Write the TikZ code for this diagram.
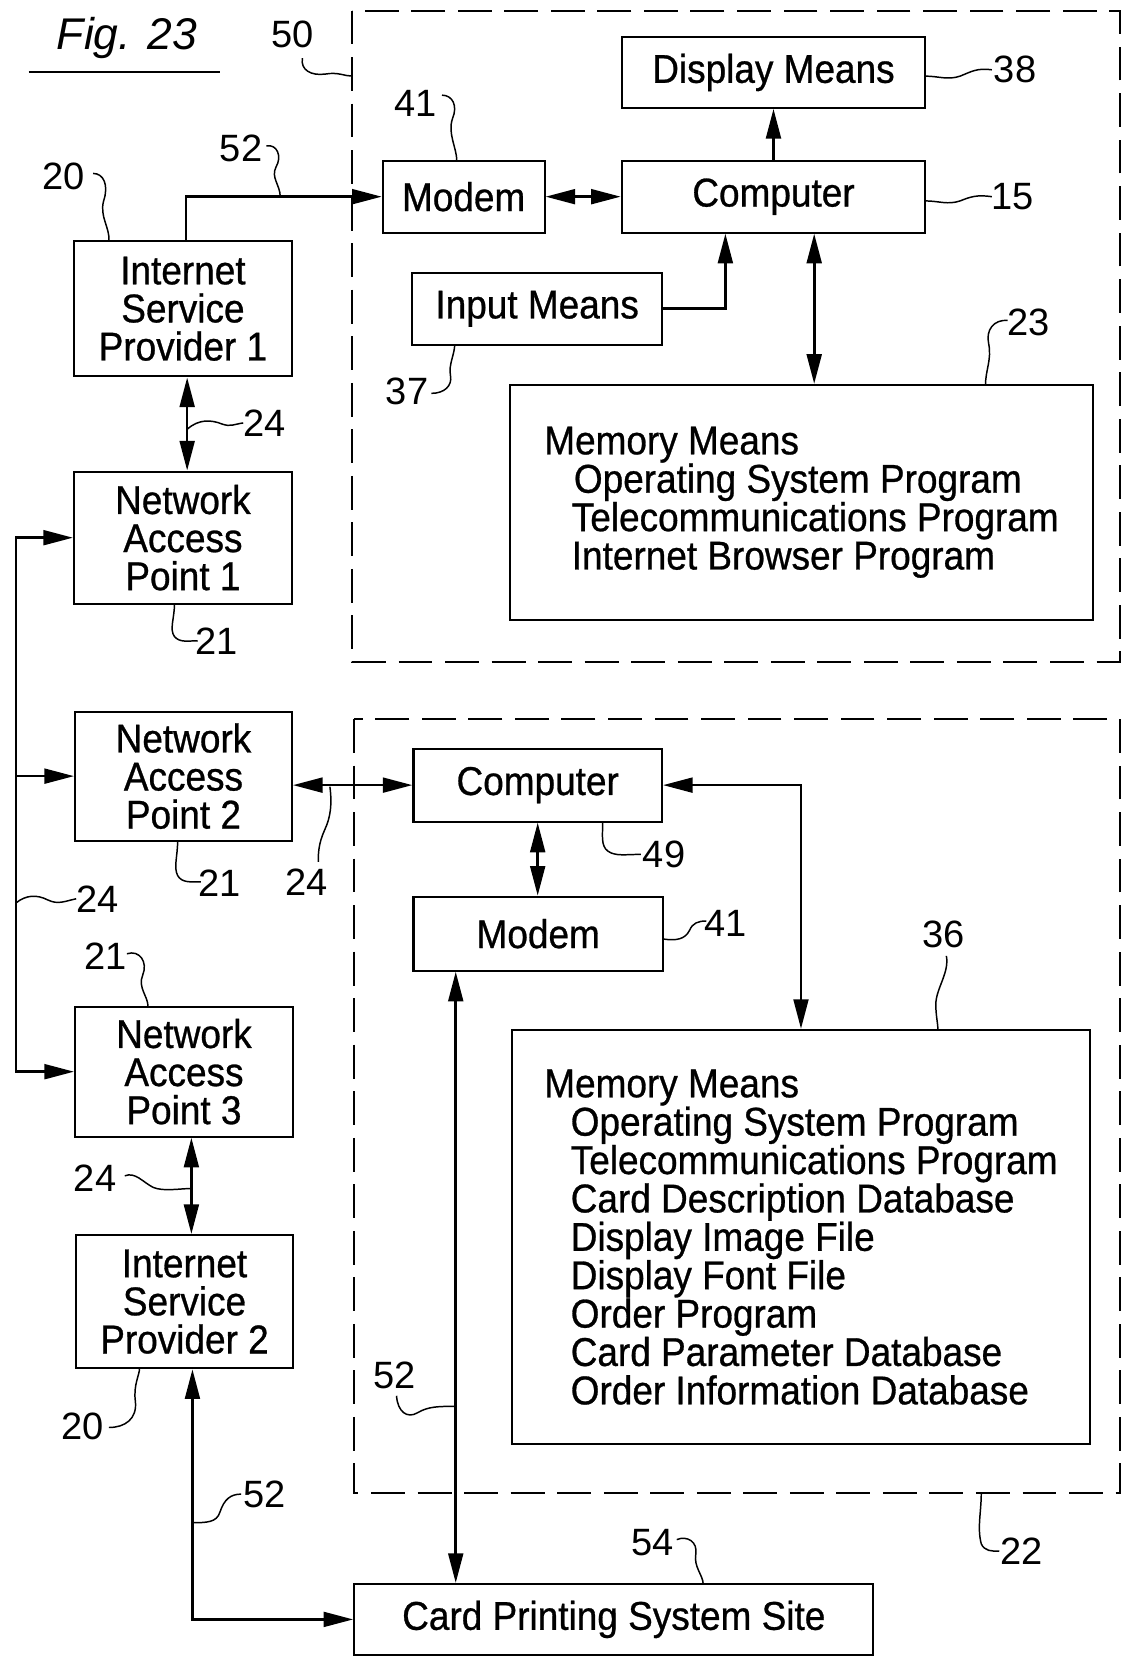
\documentclass[tikz,border=0pt]{standalone}
\usepackage{fontspec}
\setmainfont[FakeStretch=0.92,FakeBold=0.7]{Liberation Sans}
\newfontfamily\numfont{Liberation Sans}
\usetikzlibrary{arrows.meta}
\newcommand\mytightlines{\lineskiplimit=-100pt\relax}
\begin{document}
\begin{tikzpicture}[x=1pt,y=-1pt,
  >={Triangle[length=28pt,width=14pt]},
  box/.style={draw, line width=2pt, inner sep=0pt, align=center, font=\fontsize{38}{36}\selectfont\mytightlines},
  memtext/.style={align=left, font=\fontsize{38}{36.3}\selectfont\mytightlines},
  conn/.style={line width=2.5pt},
  lead/.style={line width=1.4pt},
  num/.style={font=\numfont\fontsize{36}{36}\selectfont, inner sep=0pt},
  dbox/.style={line width=2pt, dash pattern=on 32pt off 12pt}
]
\fill[white] (0,0) rectangle (1061,1568);
\useasboundingbox (0,0) rectangle (1061,1568);

% title
\node[font=\numfont\itshape\fontsize{42}{42}\selectfont, inner sep=0pt] (fig) at (120,36) {Fig. 23};
\draw[line width=2pt] (27,68) -- (208,68);

% dashed enclosures
\draw[dbox] (333,10) rectangle (1059,626);
\draw[dbox] (335,680) rectangle (1059,1412);

% boxes, upper system
\node[box, minimum width=287pt, minimum height=67pt] (disp) at (731.5,68.5) {Display Means};
\node[box, minimum width=153pt, minimum height=68pt] (modemA) at (438.5,186) {Modem};
\node[box, minimum width=287pt, minimum height=68pt] (compA) at (731.5,186) {Computer};
\node[box, minimum width=236pt, minimum height=68pt] (input) at (508,292) {Input Means};
\node[box, memtext, minimum width=552pt, minimum height=222pt] (memA) at (758,475)
  {Memory Means\\\hspace*{28pt}Operating System Program\\\hspace*{26pt}Telecommunications Program\\\hspace*{26pt}Internet Browser Program};

% left column
\node[box, minimum width=206pt, minimum height=128pt] (isp1) at (173,292) {Internet\\Service\\Provider 1};
\node[box, minimum width=206pt, minimum height=125pt] (nap1) at (173,508.5) {Network\\Access\\Point 1};
\node[box, minimum width=205pt, minimum height=122pt] (nap2) at (173.5,734) {Network\\Access\\Point 2};
\node[box, minimum width=206pt, minimum height=123pt] (nap3) at (174,1013.5) {Network\\Access\\Point 3};
\node[box, minimum width=205pt, minimum height=126pt] (isp2) at (174.5,1231) {Internet\\Service\\Provider 2};

% lower system
\node[box, minimum width=235pt, minimum height=69pt] (compB) at (508.5,742.5) {Computer};
\node[box, minimum width=236pt, minimum height=70pt] (modemB) at (509,883) {Modem};
\node[box, memtext, minimum width=547pt, minimum height=392pt] (memB) at (757.5,1170)
  {Memory Means\\\hspace*{25pt}Operating System Program\\\hspace*{25pt}Telecommunications Program\\\hspace*{25pt}Card Description Database\\\hspace*{25pt}Display Image File\\\hspace*{25pt}Display Font File\\\hspace*{25pt}Order Program\\\hspace*{25pt}Card Parameter Database\\\hspace*{25pt}Order Information Database};
\node[box, minimum width=491pt, minimum height=67pt] (card) at (580.5,1531.5) {Card Printing System Site};

% connectors
\coordinate (i1) at ([xshift=3pt]isp1.north);
\draw[conn,->] (i1) |- (modemA.west);
\draw[conn,<->] (modemA.east) -- (compA.west);
\draw[conn,->] (compA.north) -- (disp.south);
\coordinate (ca) at ([xshift=-45.5pt]compA.south);
\draw[conn,->] (input.east) -| (ca);
\coordinate (cm) at ([xshift=38.5pt]compA.south);
\draw[conn,<->] (cm) -- (cm |- memA.north);
\coordinate (i1s) at ([xshift=4pt]isp1.south);
\draw[conn,<->] (i1s) -- (i1s |- nap1.north);

\coordinate (busx) at (15,0);
\draw[conn, line cap=rect] (busx |- nap1.west) -- (busx |- nap3.west);
\draw[conn,->] (busx |- nap1.west) -- (nap1.west);
\draw[conn,->] (busx |- nap2.west) -- (nap2.west);
\draw[conn,->] (busx |- nap3.west) -- (nap3.west);

\draw[conn,<->] (nap2.east |- compB.west) -- (compB.west);
\draw[conn,<->] (compB.south) -- (compB.south |- modemB.north);
\draw[conn,<->] (compB.east) -| (memB.north);
\coordinate (mb) at ([xshift=-78pt]modemB.south);
\draw[conn,<->] (mb) -- (mb |- card.north);
\coordinate (n3) at ([xshift=7pt]nap3.south);
\draw[conn,<->] (n3) -- (n3 |- isp2.north);
\coordinate (i2) at ([xshift=7.5pt]isp2.south);
\draw[conn,<->] (i2) |- (card.west);

% reference numerals
\node[num] (l50) at (277,33) {50};
\node[num] (l41a) at (393,98) {41};
\node[num] (l52a) at (228,140) {52};
\node[num] (l20a) at (60,167) {20};
\node[num] (l38) at (960,66) {38};
\node[num] (l15) at (958,186) {15};
\node[num] (l37) at (385,370) {37};
\node[num] (l23) at (973,305) {23};
\node[num] (l24a) at (250,400) {24};
\node[num] (l21a) at (205,606) {21};
\node[num] (l24b) at (92,850) {24};
\node[num] (l21b) at (208,835) {21};
\node[num] (l24c) at (290,834) {24};
\node[num] (l49) at (628,808) {49};
\node[num] (l41b) at (686,873) {41};
\node[num] (l36) at (892,884) {36};
\node[num] (l21c) at (100,904) {21};
\node[num] (l24d) at (90,1114) {24};
\node[num] (l20b) at (78,1349) {20};
\node[num] (l52b) at (250,1413) {52};
\node[num] (l52c) at (373,1301) {52};
\node[num] (l54) at (617,1459) {54};
\node[num] (l22) at (966,1467) {22};

% leader lines
\draw[lead] (286,55) .. controls (284,66) and (294,72) .. (308,70) .. controls (320,68) and (326,72) .. (333,72);
\draw[lead] (418,90) .. controls (428,90) and (433,100) .. (428,112) .. controls (423,126) and (432,140) .. (432,152);
\draw[lead] (252,138) .. controls (262,136) and (267,148) .. (261,158) .. controls (256,168) and (265,175) .. (265,186);
\draw[lead] (88,164) .. controls (98,164) and (103,175) .. (98,190) .. controls (94,205) and (104,215) .. (103,228);
\draw[lead] (875,72) .. controls (888,72) and (896,76) .. (908,72) .. controls (918,68) and (924,64) .. (938,66);
\draw[lead] (875,190) .. controls (888,190) and (896,194) .. (908,190) .. controls (918,186) and (924,184) .. (938,186);
\draw[lead] (408,372) .. controls (420,372) and (428,365) .. (426,355) .. controls (424,345) and (430,335) .. (430,326);
\draw[lead] (953,303) .. controls (940,302) and (932,312) .. (935,325) .. controls (938,340) and (932,350) .. (932,364);
\draw[lead] (177,406) .. controls (188,396) and (200,397) .. (210,401) .. controls (218,404) and (222,401) .. (230,400);
\draw[lead] (165,571) .. controls (165,585) and (160,595) .. (165,602) .. controls (170,608) and (178,606) .. (187,606);
\draw[lead] (15,854) .. controls (25,846) and (35,846) .. (45,851) .. controls (55,856) and (62,852) .. (72,850);
\draw[lead] (168,795) .. controls (168,810) and (164,820) .. (168,828) .. controls (172,835) and (180,834) .. (190,834);
\draw[lead] (312,744) .. controls (314,760) and (313,772) .. (307,785) .. controls (301,798) and (301,808) .. (301,815);
\draw[lead] (570,777) .. controls (570,790) and (568,800) .. (575,805) .. controls (582,810) and (592,808) .. (606,808);
\draw[lead] (627,888) .. controls (640,890) and (648,888) .. (652,880) .. controls (655,873) and (660,871) .. (668,871);
\draw[lead] (895,904) .. controls (898,920) and (885,935) .. (885,950) .. controls (885,960) and (887,968) .. (887,974);
\draw[lead] (120,902) .. controls (132,898) and (140,910) .. (135,922) .. controls (130,934) and (140,942) .. (140,952);
\draw[lead] (118,1112) .. controls (128,1108) and (135,1118) .. (145,1123) .. controls (155,1127) and (170,1124) .. (181,1124);
\draw[lead] (103,1350) .. controls (118,1350) and (130,1342) .. (128,1325) .. controls (126,1310) and (132,1300) .. (132,1294);
\draw[lead] (182,1440) .. controls (195,1440) and (205,1440) .. (208,1430) .. controls (212,1418) and (218,1413) .. (228,1413);
\draw[lead] (375,1320) .. controls (376,1335) and (385,1342) .. (395,1336) .. controls (405,1330) and (415,1330) .. (431,1330);
\draw[lead] (640,1456) .. controls (650,1452) and (660,1458) .. (658,1470) .. controls (656,1482) and (665,1490) .. (665,1498);
\draw[lead] (928,1412) .. controls (928,1430) and (924,1445) .. (928,1460) .. controls (931,1467) and (938,1467) .. (945,1467);
\end{tikzpicture}
\end{document}
